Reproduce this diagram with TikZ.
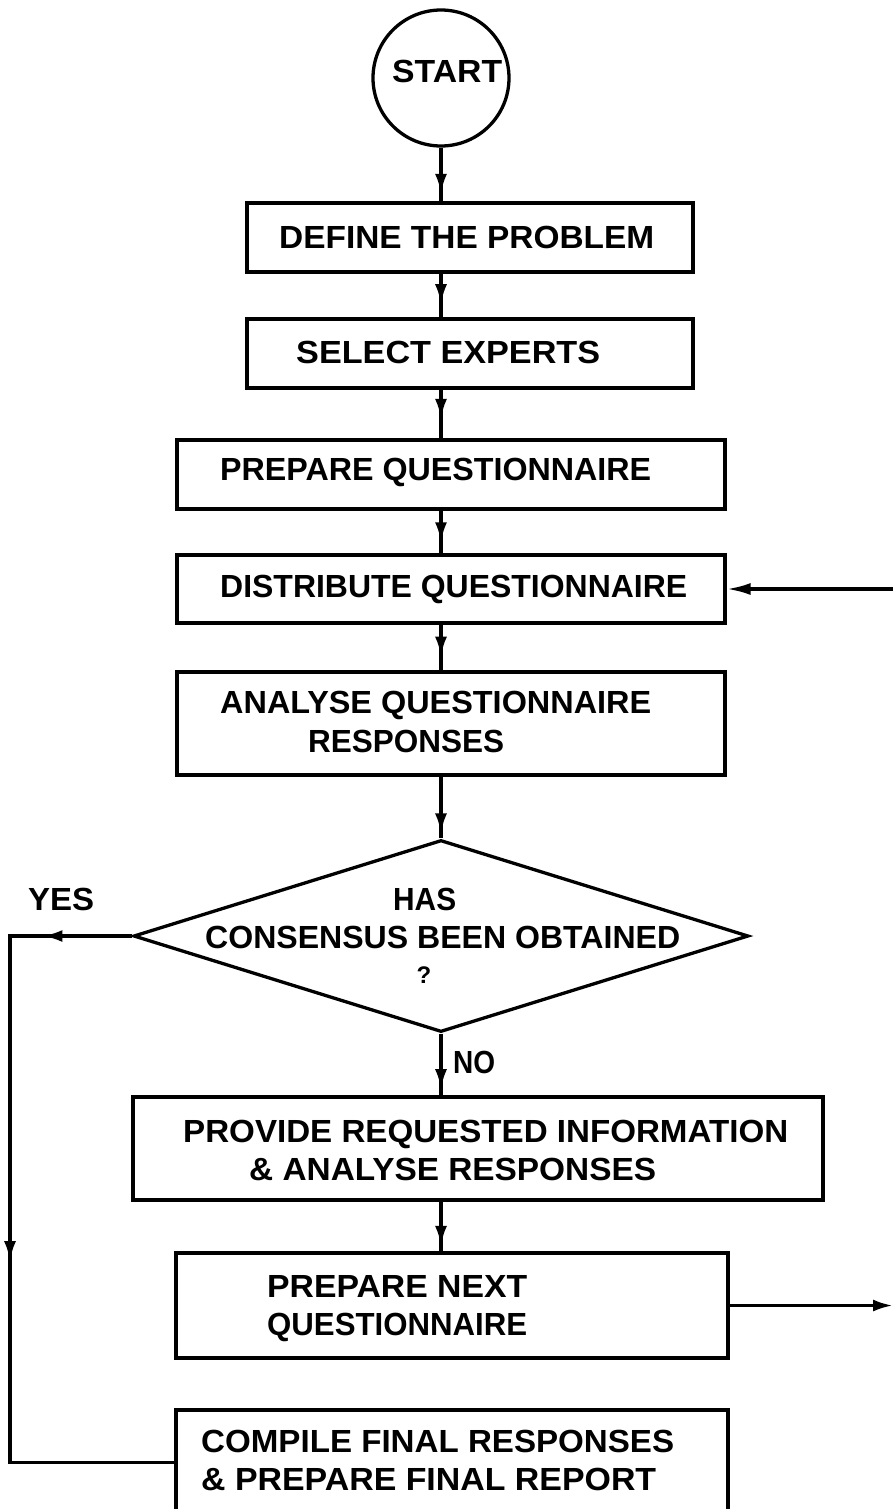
\documentclass[tikz,border=0pt]{standalone}
\usepackage{fontspec}
\setmainfont{Liberation Sans}
\usetikzlibrary{shapes.geometric,arrows.meta,decorations.markings}
\newcommand{\fitto}[2]{\resizebox{#1pt}{\height}{#2}}
\tikzset{
  box/.style={draw, rectangle, line width=3.3pt, inner sep=0pt},
  lbl/.style={inner sep=0pt, font=\fontsize{32}{38}\selectfont\bfseries},
  flow/.style={line width=3.3pt},
  midarrow/.style={postaction={decorate}, decoration={markings,
      mark=at position #1 with {\arrow{Latex[length=20pt,width=12pt]}}}},
  looparrows/.style={postaction={decorate}, decoration={markings,
      mark=at position 0.11 with {\arrow{Latex[length=20pt,width=12pt]}},
      mark=at position 0.55 with {\arrow{Latex[length=20pt,width=12pt]}}}},
}
\begin{document}
\begin{tikzpicture}[x=1pt,y=-1pt]
\clip (0,0) rectangle (893,1509);
\fill[white] (0,0) rectangle (893,1509);

% shapes
\node[draw, circle, line width=3.3pt, minimum size=136pt, inner sep=0pt] (start) at (441,78) {};
\node[box, minimum width=446pt, minimum height=69pt] (define) at (470,237.5) {};
\node[box, minimum width=446pt, minimum height=69pt] (select) at (470,353.5) {};
\node[box, minimum width=548pt, minimum height=69pt] (prepq) at (451,474.5) {};
\node[box, minimum width=548pt, minimum height=68pt] (distq) at (451,589) {};
\node[box, minimum width=548pt, minimum height=103pt] (analyse) at (451,723.5) {};
\node[draw, diamond, line width=3.3pt, minimum width=615pt, minimum height=192pt, aspect=3.2, inner sep=0pt] (dec) at (441,936) {};
\node[box, minimum width=690pt, minimum height=103pt] (provide) at (478,1148.5) {};
\node[box, minimum width=552pt, minimum height=105pt] (prepnext) at (452,1305.5) {};
\node[box, minimum width=552pt, minimum height=105pt] (compile) at (452,1462.5) {};

% texts
\node[lbl, anchor=base west] (tstart) at (392,83) {\fitto{110}{START}};
\node[lbl, anchor=base west] (tdefine) at (279,248) {\fitto{375}{DEFINE THE PROBLEM}};
\node[lbl, anchor=base west] (tselect) at (296,363) {\fitto{304}{SELECT EXPERTS}};
\node[lbl, anchor=base west] (tprepq) at (220,480) {\fitto{431}{PREPARE QUESTIONNAIRE}};
\node[lbl, anchor=base west] (tdistq) at (220,597) {\fitto{467}{DISTRIBUTE QUESTIONNAIRE}};
\node[lbl, anchor=base west] (tanaA) at (220,713) {\fitto{431}{ANALYSE QUESTIONNAIRE}};
\node[lbl, anchor=base west] (tanaB) at (308,752) {\fitto{196}{RESPONSES}};
\node[lbl, anchor=base west] (thas) at (393,910) {\fitto{63}{HAS}};
\node[lbl, anchor=base west] (tcons) at (205,948) {\fitto{475}{CONSENSUS BEEN OBTAINED}};
\node[inner sep=0pt, anchor=base, font=\fontsize{24}{28}\selectfont\bfseries] (tq) at (424,983) {?};
\node[lbl, anchor=base west] (tyes) at (28,910) {\fitto{66}{YES}};
\node[lbl, anchor=base west] (tno) at (453,1073) {\fitto{42}{NO}};
\node[lbl, anchor=base west] (tprovA) at (183,1142) {\fitto{605}{PROVIDE REQUESTED INFORMATION}};
\node[lbl, anchor=base west] (tprovB) at (249,1180) {\fitto{407}{\& ANALYSE RESPONSES}};
\node[lbl, anchor=base west] (tnextA) at (267,1297) {\fitto{260}{PREPARE NEXT}};
\node[lbl, anchor=base west] (tnextB) at (267,1335) {\fitto{260}{QUESTIONNAIRE}};
\node[lbl, anchor=base west] (tcompA) at (201,1452) {\fitto{473}{COMPILE FINAL RESPONSES}};
\node[lbl, anchor=base west] (tcompB) at (201,1490) {\fitto{455}{\& PREPARE FINAL REPORT}};

% connectors
\draw[flow, midarrow=0.86] (start.south) -- (start.south |- define.north);
\draw[flow, midarrow=0.7] (start.south |- define.south) -- (start.south |- select.north);
\draw[flow, midarrow=0.6] (start.south |- select.south) -- (start.south |- prepq.north);
\draw[flow, midarrow=0.74] (start.south |- prepq.south) -- (start.south |- distq.north);
\draw[flow, midarrow=0.7] (start.south |- distq.south) -- (start.south |- analyse.north);
\draw[flow, midarrow=0.92] (dec.north |- analyse.south) -- (dec.north);
\draw[flow, midarrow=0.9] (dec.south) -- (dec.south |- provide.north);
\draw[flow, midarrow=0.89] (dec.south |- provide.south) -- (dec.south |- prepnext.north);

\coordinate (lc) at (10,1462.5);
\draw[flow, looparrows] (dec.west) -| (lc) -- (compile.west);

\coordinate (rin) at (893,589);
\draw[flow, -{Latex[length=24pt,width=12pt]}] (rin) -- (distq.east);
\coordinate (rout) at (893,1305.5);
\draw[flow, -{Latex[length=20pt,width=12pt]}] (prepnext.east) -- (rout);
\end{tikzpicture}
\end{document}
